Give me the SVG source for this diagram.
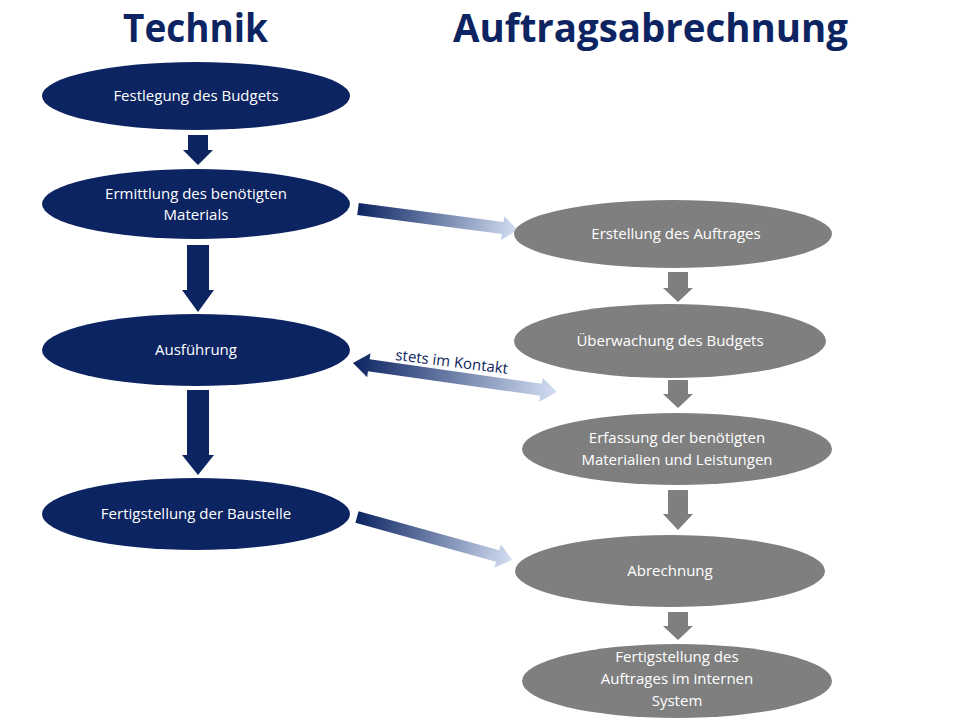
<svg xmlns="http://www.w3.org/2000/svg" width="960" height="720" viewBox="0 0 960 720">
<defs>
<linearGradient id="g1" x1="0" y1="0" x2="1" y2="0">
<stop offset="0" stop-color="#0c2461"/>
<stop offset="1" stop-color="#d3def2"/>
</linearGradient>
<linearGradient id="g2" x1="0" y1="0" x2="1" y2="0">
<stop offset="0" stop-color="#0c2461"/>
<stop offset="1" stop-color="#d3def2"/>
</linearGradient>
</defs>
<style>
.title{font-family:"Open Sans","Liberation Sans",sans-serif;font-weight:bold;font-size:40px;fill:#0c2461}
.nav{fill:#0c2461}
.gr{fill:#7f7f7f}
.t{font-family:"Open Sans","Liberation Sans",sans-serif;font-size:15px;fill:#ffffff;text-anchor:middle}
.lbl{font-family:"Open Sans","Liberation Sans",sans-serif;font-size:15px;fill:#0c2461}
</style>
<rect width="960" height="720" fill="#ffffff"/>
<text class="title" x="123" y="42" textLength="145" lengthAdjust="spacingAndGlyphs">Technik</text>
<text class="title" x="453" y="42" textLength="395" lengthAdjust="spacingAndGlyphs">Auftragsabrechnung</text>

<g id="connectors">
<polygon class="nav" points="188,135 208,135 208,150 213,150 198,165 183,150 188,150"/>
<polygon class="nav" points="187,245 209,245 209,290 214,290 198,312 182,290 187,290"/>
<polygon class="nav" points="187,390 209,390 209,455 214,455 198,475 182,455 187,455"/>
<polygon class="gr" points="668,272 688,272 688,288 693,288 678,302 663,288 668,288"/>
<polygon class="gr" points="668,380 688,380 688,394 693,394 678,408 663,394 668,394"/>
<polygon class="gr" points="668,490 688,490 688,514 693,514 678,530 663,514 668,514"/>
<polygon class="gr" points="668,612 688,612 688,626 693,626 678,640 663,626 668,626"/>
<g transform="translate(358,209) rotate(7.5)">
<polygon fill="url(#g1)" points="0,-6 146,-6 146,-12 161,0 146,12 146,6 0,6"/>
</g>
<g transform="translate(353,363) rotate(8.1)">
<polygon fill="url(#g2)" points="0,0 16,-12 16,-6 190,-6 190,-12 206,0 190,12 190,6 16,6 16,12"/>
</g>
<g transform="translate(357,517) rotate(15.5)">
<polygon fill="url(#g1)" points="0,-6 146,-6 146,-12 161,0 146,12 146,6 0,6"/>
</g>
<text class="lbl" transform="translate(395,360) rotate(7)">stets im Kontakt</text>
</g>

<g id="n1"><ellipse class="nav" cx="196" cy="96" rx="154" ry="34"/><text class="t" x="196" y="101">Festlegung des Budgets</text></g>
<g id="n2"><ellipse class="nav" cx="196" cy="204" rx="154" ry="35"/><text class="t" x="196" y="199">Ermittlung des benötigten</text><text class="t" x="196" y="220">Materials</text></g>
<g id="n3"><ellipse class="nav" cx="196" cy="350" rx="154" ry="36"/><text class="t" x="196" y="355">Ausführung</text></g>
<g id="n4"><ellipse class="nav" cx="196" cy="514" rx="154" ry="36"/><text class="t" x="196" y="519">Fertigstellung der Baustelle</text></g>

<g id="r1"><ellipse class="gr" cx="673" cy="234" rx="159" ry="34"/><text class="t" x="676" y="239">Erstellung des Auftrages</text></g>
<g id="r2"><ellipse class="gr" cx="670" cy="341" rx="156" ry="37"/><text class="t" x="670" y="346">Überwachung des Budgets</text></g>
<g id="r3"><ellipse class="gr" cx="677" cy="449" rx="155" ry="36"/><text class="t" x="677" y="443">Erfassung der benötigten</text><text class="t" x="677" y="465">Materialien und Leistungen</text></g>
<g id="r4"><ellipse class="gr" cx="670" cy="571" rx="155" ry="36"/><text class="t" x="670" y="576">Abrechnung</text></g>
<g id="r5"><ellipse class="gr" cx="677" cy="681" rx="155" ry="37"/><text class="t" x="677" y="662">Fertigstellung des</text><text class="t" x="677" y="684">Auftrages im internen</text><text class="t" x="677" y="706">System</text></g>
</svg>
